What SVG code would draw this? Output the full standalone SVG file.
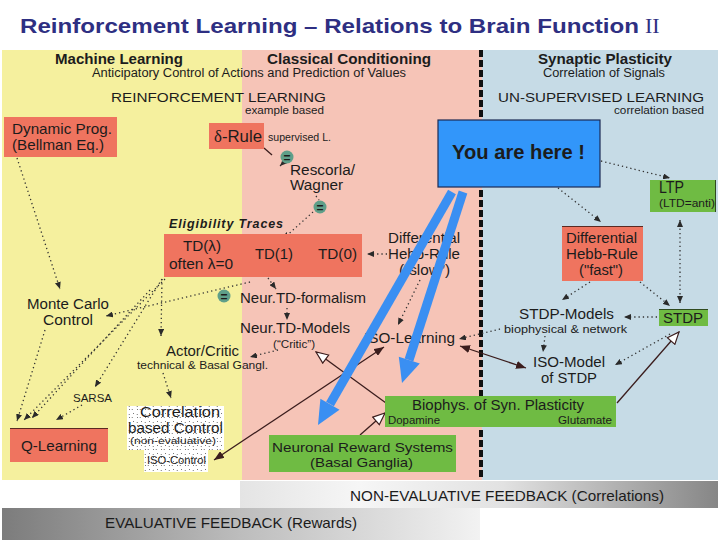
<svg xmlns="http://www.w3.org/2000/svg" width="720" height="540" viewBox="0 0 720 540">
<style>
.t{font-family:"Liberation Sans",Arial,sans-serif;fill:#1c1c1c}
.b{font-weight:bold}
.f15{font-size:15px}
.f14{font-size:14px}
.f11{font-size:11px}
.dot{stroke:#333;stroke-width:1.3;stroke-dasharray:1.3 3;fill:none}
.sol{stroke:#3b1d1d;stroke-width:1.3;fill:none}
.red{fill:#ef745f}
.grn{fill:#6fbb43}
.eq{fill:#5f9f89}
.blue{stroke:#3a8ff2;stroke-width:9;fill:none}
</style>
<defs>
<marker id="a" markerUnits="userSpaceOnUse" markerWidth="7" markerHeight="6" refX="7" refY="3" orient="auto-start-reverse"><path d="M0,0 L7,3 L0,6 z" fill="#2a2a2a"/></marker>
<marker id="f" markerUnits="userSpaceOnUse" markerWidth="10" markerHeight="8" refX="10" refY="4" orient="auto-start-reverse"><path d="M0,0 L10,4 L0,8 z" fill="#3b1d1d"/></marker>
<marker id="o" markerUnits="userSpaceOnUse" markerWidth="14" markerHeight="12" refX="13" refY="6" orient="auto"><path d="M1,1 L13,6 L1,11 z" fill="#fff" stroke="#3b1d1d" stroke-width="1.2"/></marker>
<linearGradient id="gne" x1="0" y1="0" x2="1" y2="0"><stop offset="0" stop-color="#e4e4e4"/><stop offset="0.25" stop-color="#f6f6f6"/><stop offset="0.55" stop-color="#e2e2e2"/><stop offset="1" stop-color="#868686"/></linearGradient>
<linearGradient id="gev" x1="0" y1="0" x2="1" y2="0"><stop offset="0" stop-color="#7c7c7c"/><stop offset="0.5" stop-color="#bdbdbd"/><stop offset="1" stop-color="#f2f2f2"/></linearGradient>
<pattern id="noise" width="8" height="8" patternUnits="userSpaceOnUse"><rect width="8" height="8" fill="#fff"/><path d="M1,2 L2,1 M5,6 L6,5 M4,1 L4.5,2 M1,6 L1.5,7" stroke="#555" stroke-width="0.8"/></pattern>
</defs>

<g id="background">
<rect x="2" y="50" width="240" height="430" fill="#f5f09e"/>
<rect x="242" y="50" width="240" height="430" fill="#f6c4b7"/>
<rect x="482" y="50" width="236" height="430" fill="#c6dbe6"/>
<line x1="481" y1="50" x2="481" y2="480" stroke="#111" stroke-width="4" stroke-dasharray="7 3"/>
<rect x="240" y="481" width="478" height="27" fill="url(#gne)"/>
<rect x="2" y="508" width="478" height="32" fill="url(#gev)"/>
</g>

<g id="title">
<text class="t b" x="20" y="33" font-size="21" style="fill:#2e2f82" textLength="619" lengthAdjust="spacingAndGlyphs">Reinforcement Learning – Relations to Brain Function</text>
<text x="645" y="33" font-family="Liberation Serif, serif" font-size="22" fill="#2e2f82">II</text>
</g>

<g id="headers">
<text class="t b f15" x="55" y="64" textLength="128" lengthAdjust="spacingAndGlyphs">Machine Learning</text>
<text class="t b f15" x="267" y="64" textLength="164" lengthAdjust="spacingAndGlyphs">Classical Conditioning</text>
<text class="t b f15" x="538" y="64" textLength="134" lengthAdjust="spacingAndGlyphs">Synaptic Plasticity</text>
<text class="t" font-size="12" x="92" y="77" textLength="314" lengthAdjust="spacingAndGlyphs">Anticipatory Control of Actions and Prediction of Values</text>
<text class="t" font-size="12" x="543" y="77" textLength="122" lengthAdjust="spacingAndGlyphs">Correlation of Signals</text>
<text class="t" font-size="13.5" x="111" y="101.5" textLength="215" lengthAdjust="spacingAndGlyphs">REINFORCEMENT LEARNING</text>
<text class="t" font-size="10.5" x="245" y="114" textLength="79" lengthAdjust="spacingAndGlyphs">example based</text>
<text class="t" font-size="13.5" x="498" y="101.5" textLength="206" lengthAdjust="spacingAndGlyphs">UN-SUPERVISED LEARNING</text>
<text class="t" font-size="10.5" x="614" y="114" textLength="90" lengthAdjust="spacingAndGlyphs">correlation based</text>
<text class="t b" font-size="12.5" font-style="italic" x="169" y="228" textLength="114" lengthAdjust="spacing">Eligibility Traces</text>
</g>

<g id="connectors">
<path class="dot" d="M17,158 L60,289" marker-end="url(#a)"/>
<path class="sol" d="M264,148 L272,155" stroke-width="1"/>
<path class="dot" d="M284,162 L280,166" marker-end="url(#a)"/>
<path class="dot" d="M316,196 L319,200"/>
<path class="dot" d="M313,212 L283,239" marker-end="url(#a)"/>
<path class="dot" d="M601,161 L670,178" marker-end="url(#a)"/>
<path class="dot" d="M558,188 L601,222" marker-end="url(#a)"/>
<path class="dot" d="M680,220 L680,303" marker-start="url(#a)" marker-end="url(#a)"/>
<path class="dot" d="M640,282 L670,306" marker-end="url(#a)"/>
<path class="dot" d="M590,282 L562,300" marker-end="url(#a)"/>
<path class="dot" d="M657,317 L624,317" marker-end="url(#a)"/>
<path class="dot" d="M545,336 L543,352" marker-end="url(#a)"/>
<path class="dot" d="M670,334 L615,365" marker-end="url(#a)"/>
<path class="dot" d="M500,329 L459,339" marker-end="url(#a)"/>
<path class="dot" d="M420,280 L398,325" marker-end="url(#a)"/>
<path class="dot" d="M387,254 L367,254" marker-end="url(#a)"/>
<path class="dot" d="M250,282 L106,316" marker-end="url(#a)"/>
<path class="dot" d="M268,278 L276,289" marker-end="url(#a)"/>
<path class="dot" d="M287,308 L287,320" marker-end="url(#a)"/>
<path class="dot" d="M278,350 L250,357" marker-end="url(#a)"/>
<path class="dot" d="M162,279 L161,336" marker-end="url(#a)"/>
<path class="dot" d="M163,373 L171,398" marker-end="url(#a)"/>
<path class="dot" d="M45,330 L17,421" marker-end="url(#a)"/>
<path class="dot" d="M165,279 L24,420" marker-end="url(#a)"/>
<path class="dot" d="M150,290 L32,418" marker-end="url(#a)"/>
<path class="dot" d="M162,279 L95,387" marker-end="url(#a)"/>
<path class="dot" d="M82,405 L56,420" marker-end="url(#a)"/>
<path class="sol" d="M460,346 L526,368" marker-start="url(#f)" marker-end="url(#f)"/>
<path class="sol" d="M384,347 L214,460" marker-start="url(#f)" marker-end="url(#f)"/>
<path class="sol" d="M386,403 L316,352" marker-end="url(#o)"/>
<path class="sol" d="M360,435 L385,413" marker-end="url(#o)"/>
<path class="sol" d="M617,403 L679,332" marker-end="url(#o)"/>
</g>

<g id="eq1"><circle class="eq" cx="287" cy="157" r="6.5"/><text class="t b" font-size="12" x="287" y="161.5" text-anchor="middle">=</text></g>
<g id="eq2"><circle class="eq" cx="320" cy="207" r="6.5"/><text class="t b" font-size="12" x="320" y="211.5" text-anchor="middle">=</text></g>
<g id="eq3"><circle class="eq" cx="224" cy="296" r="6.5"/><text class="t b" font-size="12" x="224" y="300.5" text-anchor="middle">=</text></g>

<g id="dynprog">
<rect class="red" x="4" y="117" width="113" height="40"/>
<text class="t f15" x="12" y="134" textLength="100" lengthAdjust="spacingAndGlyphs">Dynamic Prog.</text>
<text class="t f15" x="12" y="150" textLength="92" lengthAdjust="spacingAndGlyphs">(Bellman Eq.)</text>
</g>

<g id="deltarule">
<rect class="red" x="209" y="123" width="55" height="26"/>
<text class="t" font-size="17" x="214" y="142" textLength="48" lengthAdjust="spacingAndGlyphs"><tspan font-family="Liberation Serif, serif">δ</tspan>-Rule</text>
<text class="t f11" x="268" y="141" textLength="63" lengthAdjust="spacingAndGlyphs">supervised L.</text>
</g>

<g id="rescorla">
<text class="t f14" x="290" y="175" textLength="65" lengthAdjust="spacingAndGlyphs">Rescorla/</text>
<text class="t f14" x="290" y="190" textLength="53" lengthAdjust="spacingAndGlyphs">Wagner</text>
</g>

<g id="td">
<rect class="red" x="164" y="234" width="198" height="43"/>
<text class="t f15" x="183" y="251" textLength="38" lengthAdjust="spacingAndGlyphs">TD(λ)</text>
<text class="t f15" x="169" y="269" textLength="64" lengthAdjust="spacingAndGlyphs">often λ=0</text>
<text class="t f15" x="255" y="259" textLength="38" lengthAdjust="spacingAndGlyphs">TD(1)</text>
<text class="t f15" x="318" y="259" textLength="39" lengthAdjust="spacingAndGlyphs">TD(0)</text>
</g>

<g id="hebbslow">
<text class="t f14" x="388" y="243" textLength="72" lengthAdjust="spacingAndGlyphs">Differential</text>
<text class="t f14" x="388" y="258.5" textLength="72" lengthAdjust="spacingAndGlyphs">Hebb-Rule</text>
<text class="t f14" x="399" y="275" textLength="51" lengthAdjust="spacingAndGlyphs">(“slow”)</text>
</g>

<g id="hebbfast">
<rect class="red" x="562" y="226" width="81" height="55"/>
<line x1="562" y1="226.5" x2="643" y2="226.5" stroke="#5a2a22" stroke-width="1"/>
<text class="t f14" x="566" y="243" textLength="71" lengthAdjust="spacingAndGlyphs">Differential</text>
<text class="t f14" x="566" y="259" textLength="72" lengthAdjust="spacingAndGlyphs">Hebb-Rule</text>
<text class="t f14" x="579" y="275" textLength="44" lengthAdjust="spacingAndGlyphs">("fast")</text>
</g>

<g id="ltp">
<rect class="grn" x="650" y="180" width="66" height="32"/>
<line x1="715.5" y1="180" x2="715.5" y2="212" stroke="#2f4a1f" stroke-width="1"/>
<text class="t" font-size="16" x="659" y="193" textLength="25" lengthAdjust="spacingAndGlyphs">LTP</text>
<text class="t" font-size="10" x="659" y="207" textLength="56" lengthAdjust="spacingAndGlyphs">(LTD=anti)</text>
</g>

<g id="montecarlo">
<text class="t f14" x="27" y="309" textLength="82" lengthAdjust="spacingAndGlyphs">Monte Carlo</text>
<text class="t f14" x="43" y="324.5" textLength="50" lengthAdjust="spacingAndGlyphs">Control</text>
</g>

<g id="neurtd">
<text class="t f15" x="240" y="303" textLength="126" lengthAdjust="spacingAndGlyphs">Neur.TD-formalism</text>
<text class="t f15" x="240" y="333" textLength="110" lengthAdjust="spacingAndGlyphs">Neur.TD-Models</text>
<text class="t" font-size="10" x="273" y="347.5" textLength="42" lengthAdjust="spacingAndGlyphs">(“Critic”)</text>
</g>

<g id="actorcritic">
<text class="t f15" x="166" y="356" textLength="73" lengthAdjust="spacingAndGlyphs">Actor/Critic</text>
<text class="t" font-size="11" x="137" y="369" textLength="131" lengthAdjust="spacingAndGlyphs">technical &amp; Basal Gangl.</text>
</g>

<g id="isolearning">
<text class="t f15" x="364" y="343" textLength="91" lengthAdjust="spacingAndGlyphs">ISO-Learning</text>
</g>

<g id="stdpmodels">
<text class="t f15" x="519" y="319" textLength="95" lengthAdjust="spacingAndGlyphs">STDP-Models</text>
<text class="t" font-size="11" x="504" y="332.5" textLength="123" lengthAdjust="spacingAndGlyphs">biophysical &amp; network</text>
</g>

<g id="stdp">
<rect class="grn" x="659" y="309" width="49" height="17"/>
<line x1="659" y1="309.5" x2="708" y2="309.5" stroke="#2f4a1f" stroke-width="1"/>
<text class="t f15" x="663" y="323" textLength="40" lengthAdjust="spacingAndGlyphs">STDP</text>
</g>

<g id="isomodel">
<text class="t f14" x="533" y="367" textLength="72" lengthAdjust="spacingAndGlyphs">ISO-Model</text>
<text class="t f14" x="541" y="382.5" textLength="56" lengthAdjust="spacingAndGlyphs">of STDP</text>
</g>

<g id="sarsa">
<text class="t f11" x="73" y="402" textLength="39" lengthAdjust="spacingAndGlyphs">SARSA</text>
</g>

<g id="corrcontrol">
<rect x="127" y="406" width="97" height="44" fill="url(#noise)"/>
<rect x="144" y="450" width="64" height="22" fill="url(#noise)"/>
<text class="t" font-size="14" x="140" y="417" textLength="80" lengthAdjust="spacingAndGlyphs">Correlation</text>
<text class="t" font-size="14" x="128" y="433" textLength="95" lengthAdjust="spacingAndGlyphs">based Control</text>
<text class="t" font-size="9" x="130" y="444" textLength="86" lengthAdjust="spacingAndGlyphs">(non-evaluative)</text>
<text class="t f11" x="147" y="464" textLength="59" lengthAdjust="spacingAndGlyphs">ISO-Control</text>
</g>

<g id="qlearning">
<rect class="red" x="10" y="428" width="98" height="34"/>
<line x1="10" y1="428.5" x2="108" y2="428.5" stroke="#5a2a22" stroke-width="1"/>
<text class="t f15" x="21" y="451" textLength="76" lengthAdjust="spacingAndGlyphs">Q-Learning</text>
</g>

<g id="biophys">
<rect class="grn" x="385" y="396" width="231" height="31"/>
<text class="t f14" x="412" y="410" textLength="172" lengthAdjust="spacingAndGlyphs">Biophys. of Syn. Plasticity</text>
<text class="t" font-size="10" x="388" y="423.5" textLength="52" lengthAdjust="spacingAndGlyphs">Dopamine</text>
<text class="t" font-size="10" x="558" y="423.5" textLength="54" lengthAdjust="spacingAndGlyphs">Glutamate</text>
</g>

<g id="neuronalreward">
<rect class="grn" x="269" y="435" width="187" height="37"/>
<text class="t" font-size="13.5" x="272" y="452" textLength="181" lengthAdjust="spacingAndGlyphs">Neuronal Reward Systems</text>
<text class="t" font-size="13.5" x="310" y="466.5" textLength="103" lengthAdjust="spacingAndGlyphs">(Basal Ganglia)</text>
</g>

<g id="youarehere">
<rect x="438" y="120" width="162" height="67" fill="#3296fa" stroke="#1b2a55" stroke-width="1.2"/>
<text class="t b" font-size="19.5" x="452" y="159" textLength="133" lengthAdjust="spacingAndGlyphs">You are here !</text>
<path class="blue" d="M452,192 L330,404"/>
<polygon points="318,425 339.5,409.7 320.4,398.7" fill="#3a8ff2"/>
<path class="blue" d="M463,192 L409,360"/>
<polygon points="402,383 419.8,363.4 398.8,356.8" fill="#3a8ff2"/>
</g>

<g id="feedback">
<text class="t" font-size="14.5" x="350" y="501" textLength="314" lengthAdjust="spacingAndGlyphs">NON-EVALUATIVE FEEDBACK (Correlations)</text>
<text class="t" font-size="14.5" x="105" y="528" textLength="252" lengthAdjust="spacingAndGlyphs">EVALUATIVE FEEDBACK (Rewards)</text>
</g>
</svg>
